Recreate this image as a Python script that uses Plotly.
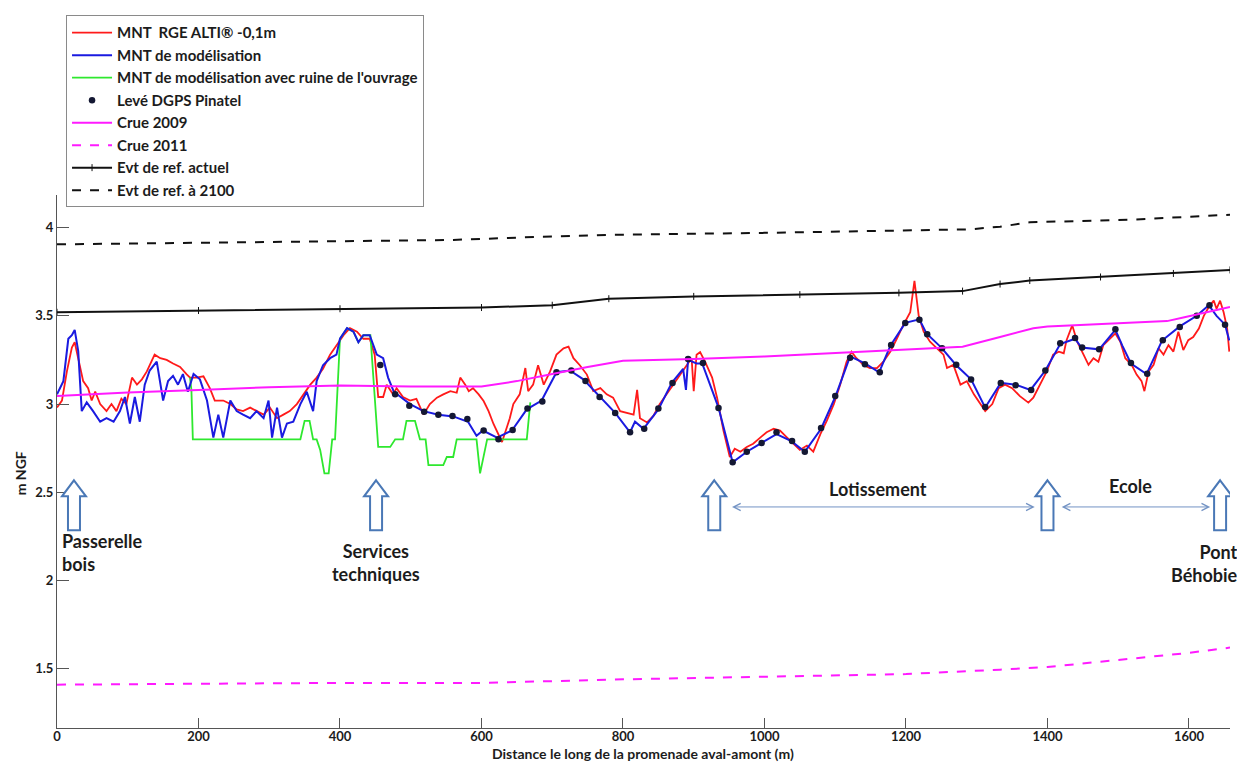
import plotly.graph_objects as go

# ---------------- data (distance in m, elevation in m NGF) ----------------
red_x = [0, 7, 14, 21, 25, 30, 37, 44, 49, 54, 61, 70, 77, 84, 91, 98, 106, 113, 120, 127,
         138, 146, 155, 164, 174, 183, 188, 197, 207, 216, 223, 235, 245, 254, 263, 273, 282,
         292, 301, 311, 320, 329, 339, 348, 358, 367, 376, 386, 395, 405, 414, 424, 433, 442,
         449, 454, 461, 466, 475, 480, 489, 499, 508, 518, 527, 537, 546, 556, 565, 570, 577,
         582, 588, 596, 603, 610, 617, 624, 629, 636, 640, 645, 654, 662, 666, 673, 680, 688,
         697, 706, 716, 723, 730, 739, 749, 758, 768, 777, 786, 796, 805, 815, 820, 824, 834,
         843, 852, 862, 871, 881, 890, 897, 900, 904, 909, 916, 926, 933, 942, 951, 958, 966,
         975, 984, 994, 1003, 1013, 1022, 1032, 1041, 1050, 1060, 1069, 1079, 1088, 1098, 1107,
         1116, 1123, 1130, 1140, 1149, 1159, 1168, 1178, 1187, 1196, 1206, 1212, 1218, 1225,
         1234, 1244, 1253, 1258, 1267, 1277, 1286, 1296, 1305, 1312, 1322, 1331, 1340, 1350,
         1361, 1373, 1380, 1390, 1399, 1408, 1416, 1423, 1427, 1435, 1442, 1451, 1458, 1465,
         1472, 1479, 1489, 1496, 1503, 1510, 1519, 1526, 1533, 1537, 1543, 1550, 1557, 1564,
         1571, 1578, 1585, 1592, 1599, 1606, 1614, 1621, 1628, 1635, 1639, 1644, 1649, 1654, 1657]
red_y = [2.98, 3.02, 3.185, 3.32, 3.35, 3.26, 3.13, 3.09, 3.02, 3.07, 3.00, 2.96, 3.00, 2.96,
         3.03, 3.00, 3.15, 3.11, 3.14, 3.185, 3.28, 3.26, 3.25, 3.23, 3.21, 3.17, 3.15, 3.15,
         3.157, 3.09, 3.02, 3.02, 3.00, 2.97, 2.96, 2.98, 2.96, 2.94, 2.98, 2.92, 2.94, 2.96,
         3.00, 3.055, 3.11, 3.15, 3.20, 3.28, 3.33, 3.39, 3.43, 3.41, 3.37, 3.37, 3.28, 3.04,
         3.04, 3.11, 3.055, 3.09, 3.04, 3.02, 3.03, 2.94, 3.00, 3.036, 3.055, 3.073, 3.064,
         3.15, 3.11, 3.073, 3.09, 3.055, 3.017, 2.96, 2.887, 2.83, 2.785, 2.87, 2.92, 3.00,
         3.055, 3.204, 3.073, 3.11, 3.22, 3.11, 3.185, 3.28, 3.316, 3.325, 3.26, 3.22, 3.167,
         3.073, 3.09, 3.055, 3.036, 2.96, 2.95, 2.94, 3.08, 2.92, 2.896, 2.933, 3.00, 3.055,
         3.11, 3.167, 3.222, 3.26, 3.073, 3.28, 3.294, 3.24, 3.15, 3.036, 2.85, 2.70, 2.747,
         2.73, 2.757, 2.775, 2.81, 2.84, 2.86, 2.85, 2.81, 2.775, 2.74, 2.765, 2.73, 2.83,
         2.905, 3.00, 3.11, 3.24, 3.297, 3.26, 3.222, 3.204, 3.204, 3.24, 3.297, 3.37, 3.446,
         3.52, 3.698, 3.50, 3.41, 3.353, 3.316, 3.28, 3.204, 3.222, 3.11, 3.13, 3.055, 3.00,
         2.96, 3.00, 3.09, 3.11, 3.09, 3.045, 3.008, 3.036, 3.11, 3.185, 3.28, 3.297, 3.288,
         3.362, 3.446, 3.353, 3.28, 3.222, 3.26, 3.24, 3.334, 3.372, 3.40, 3.353, 3.26, 3.222,
         3.167, 3.13, 3.073, 3.185, 3.222, 3.316, 3.28, 3.334, 3.297, 3.41, 3.306, 3.362, 3.38,
         3.428, 3.50, 3.55, 3.586, 3.54, 3.586, 3.52, 3.428, 3.297]

blue_x = [0, 9, 16, 21, 25, 30, 35, 42, 51, 61, 70, 80, 89, 96, 103, 110, 117, 124, 131, 141,
          150, 157, 164, 171, 178, 185, 193, 202, 212, 221, 228, 235, 245, 254, 263, 273, 282,
          292, 299, 304, 311, 318, 325, 334, 344, 353, 362, 367, 376, 386, 395, 400, 410, 419,
          426, 433, 442, 452, 461, 468, 476, 499, 518, 539, 560, 581, 593, 602, 622, 643, 664,
          685, 706, 725, 744, 765, 789, 810, 817, 829, 850, 869, 885, 889, 892, 904, 912, 935,
          955, 975, 996, 1017, 1038, 1057, 1080, 1100, 1121, 1142, 1162, 1178, 1199, 1219, 1229,
          1250, 1271, 1292, 1312, 1334, 1355, 1376, 1397, 1418, 1439, 1448, 1473, 1485, 1496,
          1506, 1518, 1540, 1551, 1562, 1587, 1611, 1628, 1639, 1651, 1657]
blue_y = [3.055, 3.13, 3.37, 3.39, 3.42, 3.30, 2.96, 3.01, 2.96, 2.90, 2.92, 2.90, 2.96, 3.04,
          2.89, 3.04, 2.90, 3.11, 3.19, 3.24, 3.02, 3.13, 3.16, 3.11, 3.17, 3.07, 3.17, 3.14,
          3.02, 2.81, 2.94, 2.81, 3.02, 2.96, 2.94, 2.92, 2.96, 2.92, 3.02, 2.81, 2.98, 2.81,
          2.89, 2.90, 3.00, 3.07, 2.96, 3.13, 3.22, 3.26, 3.28, 3.37, 3.43, 3.41, 3.35, 3.39,
          3.39, 3.28, 3.26, 3.15, 3.07, 3.00, 2.96, 2.94, 2.93, 2.90, 2.82, 2.85, 2.81, 2.85,
          2.97, 3.02, 3.18, 3.19, 3.14, 3.05, 2.95, 2.84, 2.90, 2.86, 2.97, 3.12, 3.20, 3.08,
          3.25, 3.23, 3.23, 2.98, 2.67, 2.73, 2.78, 2.83, 2.79, 2.73, 2.86, 3.04, 3.27, 3.23,
          3.18, 3.33, 3.46, 3.48, 3.40, 3.32, 3.22, 3.14, 2.98, 3.12, 3.11, 3.08, 3.19, 3.34,
          3.37, 3.32, 3.31, 3.37, 3.42, 3.33, 3.23, 3.17, 3.27, 3.36, 3.44, 3.50, 3.56, 3.50,
          3.45, 3.36]

green_x = [188, 190, 192, 344, 350, 357, 362, 367, 372, 378, 384, 389, 393, 400, 410, 419, 426,
           433, 443, 454, 471, 478, 489, 494, 506, 513, 521, 525, 546, 551, 560, 565, 593, 598,
           608, 664, 669]
green_y = [3.15, 3.08, 2.80, 2.80, 2.905, 2.905, 2.80, 2.80, 2.74, 2.607, 2.607, 2.80, 2.80,
           3.37, 3.43, 3.41, 3.35, 3.39, 3.39, 2.757, 2.757, 2.80, 2.80, 2.905, 2.905, 2.80,
           2.80, 2.654, 2.654, 2.70, 2.70, 2.80, 2.80, 2.607, 2.80, 2.80, 3.01]

dgps_x = [457, 478, 498, 519, 539, 559, 580, 603, 624, 644, 665, 686, 706, 727, 747, 767, 789,
          810, 830, 850, 870, 892, 913, 935, 955, 975, 996, 1017, 1039, 1057, 1080, 1100, 1121,
          1142, 1163, 1179, 1199, 1219, 1230, 1251, 1271, 1292, 1312, 1334, 1355, 1377, 1397,
          1418, 1439, 1449, 1473, 1496, 1518, 1541, 1563, 1587, 1611, 1629, 1651]
dgps_y = [3.222, 3.055, 2.99, 2.956, 2.94, 2.933, 2.915, 2.85, 2.80, 2.853, 2.975, 3.014, 3.18,
          3.19, 3.13, 3.04, 2.95, 2.84, 2.86, 2.975, 3.12, 3.256, 3.232, 2.977, 2.67, 2.73,
          2.78, 2.84, 2.79, 2.73, 2.865, 3.045, 3.263, 3.226, 3.18, 3.334, 3.46, 3.478, 3.396,
          3.316, 3.223, 3.139, 2.984, 3.12, 3.107, 3.08, 3.19, 3.344, 3.375, 3.32, 3.31, 3.424,
          3.232, 3.172, 3.362, 3.437, 3.50, 3.56, 3.45]

crue2009_x = [0, 100, 200, 300, 400, 500, 600, 650, 700, 750, 800, 900, 1000, 1100, 1200, 1280,
              1333, 1380, 1400, 1500, 1569, 1592, 1626, 1658]
crue2009_y = [3.045, 3.065, 3.08, 3.095, 3.105, 3.10, 3.10, 3.13, 3.17, 3.21, 3.245, 3.255,
              3.27, 3.29, 3.31, 3.325, 3.38, 3.43, 3.44, 3.46, 3.47, 3.49, 3.52, 3.55]

crue2011_x = [0, 200, 400, 600, 800, 1000, 1200, 1333, 1400, 1475, 1545, 1600, 1658]
crue2011_y = [1.41, 1.415, 1.42, 1.42, 1.44, 1.455, 1.47, 1.495, 1.51, 1.54, 1.567, 1.59, 1.62]

evt_actuel_x = [0, 200, 400, 600, 700, 780, 900, 1050, 1190, 1280, 1333, 1375, 1475, 1578, 1658]
evt_actuel_y = [3.52, 3.53, 3.54, 3.547, 3.56, 3.597, 3.61, 3.62, 3.63, 3.64, 3.68, 3.70, 3.72,
                3.74, 3.76]

evt_2100_x = [0, 350, 560, 700, 800, 1000, 1200, 1290, 1333, 1375, 1520, 1658]
evt_2100_y = [3.905, 3.92, 3.93, 3.95, 3.96, 3.97, 3.985, 3.99, 4.005, 4.03, 4.045, 4.073]

# landmarks (position along the promenade)
site_arrow_x = [24, 451, 929, 1400, 1644]
site_arrow_tip = 2.568
zone_arrows = [(952, 1382), (1418, 1630)]
zone_arrow_y = 2.417

FONT = "Lato"

fig = go.Figure()

def line_trace(x, y, name, color, width=2, dash=None, rank=1, **kw):
    return go.Scatter(x=x, y=y, mode="lines", name=name, legendrank=rank,
                      line=dict(color=color, width=width, dash=dash), **kw)

fig.add_trace(line_trace(red_x, red_y, "MNT  RGE ALTI\u00ae -0,1m", "#ff1a1a", 1.8, rank=1))
fig.add_trace(line_trace(green_x, green_y, "MNT de modélisation avec ruine de l'ouvrage",
                         "#2ee82e", 1.8, rank=3))
fig.add_trace(line_trace(blue_x, blue_y, "MNT de modélisation", "#1a1ae0", 2, rank=2))
fig.add_trace(go.Scatter(x=dgps_x, y=dgps_y, mode="markers", name="Levé DGPS Pinatel",
                         legendrank=4, marker=dict(color="#141833", size=6.5)))
fig.add_trace(line_trace(crue2009_x, crue2009_y, "Crue 2009", "#ff1aff", 2, rank=5))
fig.add_trace(line_trace(crue2011_x, crue2011_y, "Crue 2011", "#ff1aff", 2, dash="dash", rank=6))
fig.add_trace(go.Scatter(x=evt_actuel_x, y=evt_actuel_y, mode="lines+markers",
                         name="Evt de ref. actuel", legendrank=7,
                         line=dict(color="#111111", width=2),
                         marker=dict(symbol="line-ns-open", size=5, color="#111111",
                                     line=dict(width=1, color="#111111"))))
fig.add_trace(line_trace(evt_2100_x, evt_2100_y, "Evt de ref. à 2100", "#111111", 2,
                         dash="dash", rank=8))

# hollow block arrows (pixel-sized, anchored at landmark positions)
arrow_path = "M0,0 L12,-16 L6,-16 L6,-50 L-6,-50 L-6,-16 L-12,-16 Z"
for ax_ in site_arrow_x:
    fig.add_shape(type="path", path=arrow_path, xref="x", yref="y",
                  xsizemode="pixel", ysizemode="pixel", xanchor=ax_, yanchor=site_arrow_tip,
                  line=dict(color="#4a78b6", width=2), fillcolor="white", layer="above")

annotations = []
for (x0, x1) in zone_arrows:
    annotations.append(dict(x=x1, y=zone_arrow_y, ax=x0, ay=zone_arrow_y, xref="x", yref="y",
                            axref="x", ayref="y", text="", showarrow=True,
                            arrowhead=5, startarrowhead=5, arrowside="end+start",
                            arrowsize=1.4, startarrowsize=1.4, arrowwidth=1,
                            arrowcolor="#7393c4"))

lab_font = dict(family=FONT, size=18, color="#1c1c1c", weight="bold")
annotations += [
    dict(x=4, y=2.16, xref="x", yref="y", text="Passerelle<br>bois", showarrow=False,
         xanchor="left", yanchor="middle", align="left", font=lab_font),
    dict(x=451, y=2.104, xref="x", yref="y", text="Services<br>techniques", showarrow=False,
         xanchor="center", yanchor="middle", align="center", font=lab_font),
    dict(x=1160, y=2.518, xref="x", yref="y", text="Lotissement", showarrow=False,
         xanchor="center", yanchor="middle", font=lab_font),
    dict(x=1517, y=2.535, xref="x", yref="y", text="Ecole", showarrow=False,
         xanchor="center", yanchor="middle", font=lab_font),
    dict(x=1644, y=2.099, xref="x", yref="y", text="Pont<br>Béhobie", showarrow=False,
         xanchor="right", yanchor="middle", align="right", xshift=20, font=lab_font),
    dict(x=-0.0315, y=0.478, xref="paper", yref="paper", text="m NGF", showarrow=False,
         xanchor="center", yanchor="middle", textangle=-90,
         font=dict(family=FONT, size=14, color="#1c1c1c", weight="bold")),
    dict(x=0.4996, y=-0.0475, xref="paper", yref="paper",
         xanchor="center", yanchor="middle",
         text="Distance le long de la promenade aval-amont (m)", showarrow=False,
         font=dict(family=FONT, size=14, color="#1c1c1c", weight="bold")),
]

tick_font = dict(family=FONT, size=13, color="#1c1c1c", weight="bold")
# page body has an 8px margin: figure is sized/offset so the plot area sits at
# x 57..1230 and y 188..728 of the 1245x763 window
fig.update_layout(
    width=1229, height=755,
    margin=dict(l=49, r=7, t=180, b=35),
    plot_bgcolor="white", paper_bgcolor="white",
    annotations=annotations,
    showlegend=True,
    legend=dict(x=0.0077, y=1.337, xanchor="left", yanchor="top",
                bgcolor="white", bordercolor="#8a8a8a", borderwidth=1,
                font=dict(family=FONT, size=15, color="#1c1c1c", weight="bold"),
                traceorder="normal", itemwidth=40),
    xaxis=dict(range=[0, 1658], tickvals=[0, 200, 400, 600, 800, 1000, 1200, 1400, 1600],
               ticks="inside", ticklen=10, tickcolor="#555555", showline=True,
               linecolor="#555555", linewidth=1, showgrid=False, zeroline=False,
               tickfont=tick_font, ticklabelstandoff=-4),
    yaxis=dict(range=[1.1644, 4.1846], tickvals=[1.5, 2, 2.5, 3, 3.5, 4],
               ticktext=["1.5", "2", "2.5", "3", "3.5", "4"],
               ticks="inside", ticklen=12, tickcolor="#555555", showline=True,
               linecolor="#555555", linewidth=1, showgrid=False, zeroline=False,
               tickfont=tick_font),
)

fig.write_html("out.html")
